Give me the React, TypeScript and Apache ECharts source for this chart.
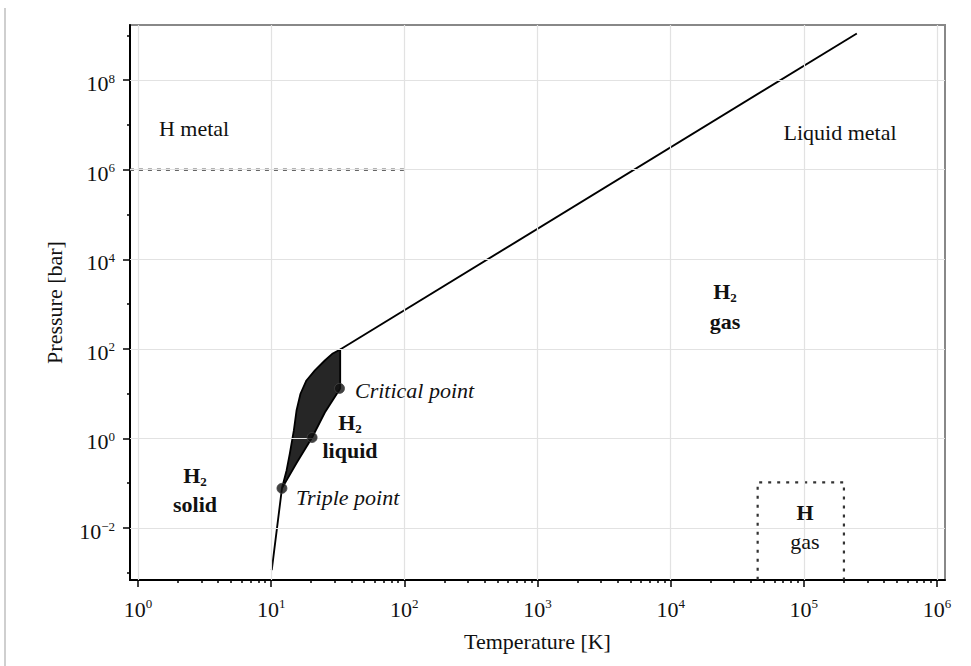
import React, { useEffect, useRef } from 'react';
import * as echarts from 'echarts';

// Axis extents in log10 units (temperature in K, pressure in bar)
const xLogMin = -0.06;
const xLogMax = 6.06;
const yLogMin = -3.16;
const yLogMax = 9.23;

// Tick positions (exponents of 10)
const xMajorExponents = [0, 1, 2, 3, 4, 5, 6];
const xMinorMultipliers = [2, 3, 4, 5, 6, 7, 8, 9];
const yMajorExponents = [-2, 0, 2, 4, 6, 8];
const yMinorExponents = [-3, -1, 1, 3, 5, 7, 9];

// Melting curve below the triple point
const meltT = [10.1, 12.05];
const meltP = [1.15e-3, 0.077];

// Liquid region outline (T in K, P in bar): left (melting) edge up, then right (vapour) edge down
const liquidT = [12.05, 13.05, 13.8, 14.8, 15.5, 16.6, 18.4, 21.3, 25.3, 29.0, 33.0, 33.0, 25.3, 20.3, 15.6, 12.05];
const liquidP = [0.077, 0.193, 0.455, 1.51, 4.2, 9.95, 19.7, 33, 55, 79, 97, 13.1, 3.8, 1.05, 0.29, 0.077];

// Molecular / metallic boundary line
const boundaryT = [33.0, 2.5e5];
const boundaryP = [97, 1.1e9];

// Metallic hydrogen pressure level (dashed)
const metalT = [0.87, 100];
const metalP = [1e6, 1e6];

// Atomic H gas box (dotted)
const hGasT = [4.5e4, 4.5e4, 2.0e5, 2.0e5];
const hGasP = [7e-4, 0.105, 0.105, 7e-4];

// Marked points: triple point, normal boiling point, critical point
const pointT = [12.05, 20.3, 32.6];
const pointP = [0.077, 1.05, 13.1];

const FONT = 'Liberation Serif';
const log = Math.log10;
const pairs = (xs: number[], ys: number[]) => xs.map((x, i) => [log(x), log(ys[i])]);

export default function App() {
  const ref = useRef<HTMLDivElement>(null);

  useEffect(() => {
    const chart = echarts.init(ref.current!, null, { renderer: 'svg' });

    const supRich = {
      b: { fontFamily: FONT, fontSize: 22, lineHeight: 24, color: '#111', verticalAlign: 'middle' },
      s: { fontFamily: FONT, fontSize: 13, lineHeight: 13, padding: [0, 0, 11, 0], color: '#111' },
    };
    const fmtExp = (v: number) => {
      const e = Math.round(v);
      return `{b|10}{s|${e < 0 ? '\u2212' + -e : e}}`;
    };

    const xMinor: number[] = [];
    for (let e = xMajorExponents[0]; e < xMajorExponents[xMajorExponents.length - 1]; e++) {
      for (const m of xMinorMultipliers) xMinor.push(e + log(m));
    }

    const subRich = (weight: string) => ({
      b: { fontFamily: FONT, fontSize: 22, lineHeight: 22, fontWeight: weight, fill: '#111', verticalAlign: 'middle' },
      s: { fontFamily: FONT, fontSize: 13, lineHeight: 13, fontWeight: weight, fill: '#111', padding: [12, 0, 0, 0] },
    });

    const text = (x: number, y: number, t: string, opts: any = {}) => ({
      type: 'text',
      x,
      y,
      z: 50,
      silent: true,
      style: {
        text: t,
        fontFamily: FONT,
        fontSize: 22,
        lineHeight: 18,
        fontWeight: opts.bold ? 'bold' : 'normal',
        fontStyle: opts.italic ? 'italic' : 'normal',
        fill: '#111',
        align: opts.align || 'center',
        verticalAlign: 'middle',
        ...(opts.rich ? { rich: opts.rich } : {}),
      },
    });

    const tickLine = { color: '#000', width: 1.5 };

    chart.setOption({
      animation: false,
      backgroundColor: '#fff',
      grid: {
        left: 130,
        right: 26,
        top: 25,
        bottom: 86,
        show: true,
        borderColor: '#888',
        borderWidth: 2,
        backgroundColor: 'transparent',
        outerBoundsMode: 'none',
      },
      xAxis: [
        {
          type: 'value',
          position: 'bottom',
          min: xLogMin,
          max: xLogMax,
          axisLine: { show: true, onZero: false, lineStyle: { color: '#000', width: 2 } },
          axisTick: { show: true, customValues: xMajorExponents, length: 7, lineStyle: tickLine },
          axisLabel: { customValues: xMajorExponents, formatter: fmtExp, rich: supRich, margin: 17 },
          splitLine: { show: false },
          name: 'Temperature [K]',
          nameLocation: 'middle',
          nameGap: 50,
          nameTextStyle: { fontFamily: FONT, fontSize: 22, color: '#111' },
        },
        {
          type: 'value',
          position: 'bottom',
          min: xLogMin,
          max: xLogMax,
          axisLine: { show: false, onZero: false },
          axisTick: { show: true, customValues: xMinor, length: 3, lineStyle: tickLine },
          axisLabel: { show: false },
          splitLine: { show: false },
        },
      ],
      yAxis: [
        {
          type: 'value',
          position: 'left',
          min: yLogMin,
          max: yLogMax,
          axisLine: { show: true, onZero: false, lineStyle: { color: '#000', width: 2 } },
          axisTick: { show: true, customValues: yMajorExponents, length: 7, lineStyle: tickLine },
          axisLabel: { customValues: yMajorExponents, formatter: fmtExp, rich: supRich, margin: 15, padding: [7, 0, 0, 0] },
          splitLine: { show: false },
          name: 'Pressure [bar]',
          nameLocation: 'middle',
          nameGap: 65,
          nameTextStyle: { fontFamily: FONT, fontSize: 22, color: '#111' },
        },
        {
          type: 'value',
          position: 'left',
          min: yLogMin,
          max: yLogMax,
          axisLine: { show: false, onZero: false },
          axisTick: { show: true, customValues: yMinorExponents, length: 3, lineStyle: tickLine },
          axisLabel: { show: false },
          splitLine: { show: false },
        },
      ],
      series: [
        {
          type: 'line',
          name: 'grid',
          data: [],
          z: 1,
          silent: true,
          markLine: {
            silent: true,
            symbol: ['none', 'none'],
            label: { show: false },
            lineStyle: { color: '#e2e2e2', width: 1.2, type: 'solid' },
            data: [
              ...xMajorExponents.map((v) => ({ xAxis: v })),
              ...yMajorExponents.map((v) => ({ yAxis: v })),
            ],
          },
        },
        {
          type: 'custom',
          name: 'liquid',
          z: 3,
          data: [[0, 0]],
          renderItem: (_params: any, api: any) => ({
            type: 'polygon',
            shape: { points: pairs(liquidT, liquidP).map((p) => api.coord(p)) },
            style: { fill: '#262626', stroke: '#000', lineWidth: 1.8, lineJoin: 'round' },
          }),
        },
        {
          type: 'line',
          name: 'melting',
          z: 4,
          data: pairs(meltT, meltP),
          symbol: 'none',
          lineStyle: { color: '#000', width: 1.9 },
        },
        {
          type: 'line',
          name: 'boundary',
          z: 4,
          data: pairs(boundaryT, boundaryP),
          symbol: 'none',
          lineStyle: { color: '#000', width: 1.9 },
        },
        {
          type: 'line',
          name: 'metal',
          z: 4,
          data: pairs(metalT, metalP),
          symbol: 'none',
          lineStyle: { color: '#666', width: 2.5, type: [4, 5] },
        },
        {
          type: 'line',
          name: 'H gas',
          z: 4,
          data: pairs(hGasT, hGasP),
          symbol: 'none',
          lineStyle: { color: '#333', width: 2.2, type: [3, 6] },
        },
        {
          type: 'scatter',
          name: 'points',
          z: 6,
          data: pairs(pointT, pointP),
          symbol: 'circle',
          symbolSize: 10,
          itemStyle: { color: '#111', borderColor: '#444', borderWidth: 1 },
        },
      ],
      graphic: [
        {
          type: 'line',
          silent: true,
          shape: { x1: 5, y1: 8, x2: 5, y2: 666 },
          style: { stroke: '#cfcfcf', lineWidth: 2 },
        },
        text(194, 128, 'H metal'),
        text(840, 132, 'Liquid metal'),
        text(725, 291, '{b|H}{s|2}', { rich: subRich('bold') }),
        text(725, 321, 'gas', { bold: true }),
        text(350, 422, '{b|H}{s|2}', { rich: subRich('bold') }),
        text(350, 450, 'liquid', { bold: true }),
        text(195, 475, '{b|H}{s|2}', { rich: subRich('bold') }),
        text(195, 504, 'solid', { bold: true }),
        text(355, 390, 'Critical point', { italic: true, align: 'left' }),
        text(296, 497, 'Triple point', { italic: true, align: 'left' }),
        text(805, 512, 'H', { bold: true }),
        text(805, 541, 'gas'),
      ],
    });

    return () => chart.dispose();
  }, []);

  return (
    <div
      ref={ref}
      style={{ position: 'fixed', left: 0, top: 0, width: 971, height: 666 }}
    />
  );
}
